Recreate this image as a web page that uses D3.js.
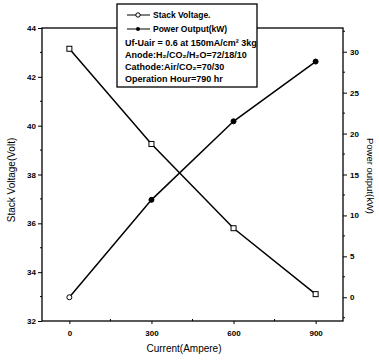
<!DOCTYPE html>
<html>
<head>
<meta charset="utf-8">
<script src="https://cdn.jsdelivr.net/npm/d3@7"></script>
<style>
  body { margin: 0; background: #fff; }
  svg { display: block; font-family: "Liberation Sans", Arial, sans-serif; }
  .tick text { font-size: 8px; font-weight: bold; }
</style>
</head>
<body>
<svg id="chart" width="379" height="360"></svg>
<script>
// data
const current = [0, 300, 600, 900];
const stackVoltage = [43.15, 39.25, 35.8, 33.1];
const powerOutput = [0, 11.9, 21.5, 28.8];

const voltTicks = [32, 34, 36, 38, 40, 42, 44];
const powerTicks = [0, 5, 10, 15, 20, 25, 30];
const currentTicks = [0, 300, 600, 900];

const legendNotes = [
  'Uf-Uair = 0.6 at 150mA/cm\u00B2 3kg',
  'Anode:H\u2082/CO\u2082/H\u2082O=72/18/10',
  'Cathode:Air/CO\u2082=70/30',
  'Operation Hour=790 hr'
];

const svg = d3.select('#chart');
const plotL = 42, plotR = 343, plotT = 28, plotB = 321;

const x = d3.scaleLinear().domain([-100, 1000]).range([plotL, plotR]);
const yV = d3.scaleLinear().domain([32, 44]).range([plotB, plotT]);
const yP = d3.scaleLinear().domain([-2.9, 32.9]).range([plotB, plotT]);

// frame
svg.append('rect')
  .attr('x', plotL).attr('y', plotT)
  .attr('width', plotR - plotL).attr('height', plotB - plotT)
  .attr('fill', 'none').attr('stroke', '#000').attr('stroke-width', 1.3);

// minor ticks
const minor = (g, scale, vals, orient, len) => {
  vals.forEach(v => {
    const p = scale(v);
    if (orient === 'left') g.append('line').attr('x1', plotL).attr('x2', plotL - len).attr('y1', p).attr('y2', p);
    if (orient === 'right') g.append('line').attr('x1', plotR).attr('x2', plotR + len).attr('y1', p).attr('y2', p);
    if (orient === 'bottom') g.append('line').attr('x1', p).attr('x2', p).attr('y1', plotB).attr('y2', plotB - len);
  });
};
const mg = svg.append('g').attr('stroke', '#000').attr('stroke-width', 1);
minor(mg, yV, d3.range(33, 44, 2), 'left', 2);
minor(mg, yP, d3.range(-2.5, 33, 5), 'right', 2);
minor(mg, x, [150, 450, 750], 'bottom', 2);

// axes
svg.append('g')
  .attr('transform', `translate(${plotL},0)`)
  .call(d3.axisLeft(yV).tickValues(voltTicks).tickSize(4).tickPadding(2))
  .call(g => g.select('.domain').remove());

svg.append('g')
  .attr('transform', `translate(${plotR},0)`)
  .call(d3.axisRight(yP).tickValues(powerTicks).tickSize(4).tickPadding(3))
  .call(g => g.select('.domain').remove());

svg.append('g')
  .attr('transform', `translate(0,${plotB})`)
  .call(d3.axisBottom(x).tickValues(currentTicks).tickSize(3).tickPadding(6))
  .call(g => g.select('.domain').remove());

svg.selectAll('.tick line').attr('stroke-width', 1);

// axis titles
svg.append('text')
  .attr('transform', 'translate(15,180) rotate(-90)')
  .attr('text-anchor', 'middle')
  .attr('font-size', 10)
  .text('Stack Voltage(Volt)');

svg.append('text')
  .attr('transform', 'translate(367,176) rotate(90)')
  .attr('text-anchor', 'middle')
  .attr('font-size', 9.5)
  .text('Power output(kW)');

svg.append('text')
  .attr('x', 184).attr('y', 352)
  .attr('text-anchor', 'middle')
  .attr('font-size', 10)
  .text('Current(Ampere)');

// series
const vData = current.map((c, i) => [c, stackVoltage[i]]);
const pData = current.map((c, i) => [c, powerOutput[i]]);

svg.append('path')
  .datum(vData)
  .attr('fill', 'none').attr('stroke', '#000').attr('stroke-width', 1.5)
  .attr('d', d3.line().x(d => x(d[0])).y(d => yV(d[1])));

svg.append('path')
  .datum(pData)
  .attr('fill', 'none').attr('stroke', '#000').attr('stroke-width', 1.5)
  .attr('d', d3.line().x(d => x(d[0])).y(d => yP(d[1])));

svg.selectAll('.vmark').data(vData).join('rect')
  .attr('class', 'vmark')
  .attr('x', d => x(d[0]) - 2.5).attr('y', d => yV(d[1]) - 2.5)
  .attr('width', 5).attr('height', 5)
  .attr('fill', '#fff').attr('stroke', '#000').attr('stroke-width', 1);

svg.selectAll('.pmark').data(pData).join('circle')
  .attr('class', 'pmark')
  .attr('cx', d => x(d[0])).attr('cy', d => yP(d[1]))
  .attr('r', 2.5)
  .attr('fill', (d, i) => i === 0 ? '#fff' : '#000')
  .attr('stroke', '#000').attr('stroke-width', 1);

// legend box
const lg = svg.append('g');
lg.append('rect')
  .attr('x', 117).attr('y', 4).attr('width', 140).attr('height', 83)
  .attr('fill', '#fff').attr('stroke', '#000').attr('stroke-width', 1.3);

lg.append('line').attr('x1', 127).attr('x2', 150).attr('y1', 15).attr('y2', 15).attr('stroke', '#000');
lg.append('circle').attr('cx', 138).attr('cy', 15).attr('r', 2.2)
  .attr('fill', '#fff').attr('stroke', '#000');
lg.append('text').attr('x', 153).attr('y', 18).attr('font-size', 8.5).attr('font-weight', 'bold')
  .text('Stack Voltage.');

lg.append('line').attr('x1', 127).attr('x2', 150).attr('y1', 29).attr('y2', 29).attr('stroke', '#000');
lg.append('circle').attr('cx', 138).attr('cy', 29).attr('r', 2).attr('fill', '#000');
lg.append('text').attr('x', 153).attr('y', 32).attr('font-size', 8.5).attr('font-weight', 'bold')
  .text('Power Output(kW)');

lg.selectAll('.note').data(legendNotes).join('text')
  .attr('class', 'note')
  .attr('x', 125).attr('y', (d, i) => 46 + i * 12)
  .attr('font-size', 9).attr('font-weight', 'bold')
  .text(d => d);
</script>
</body>
</html>
